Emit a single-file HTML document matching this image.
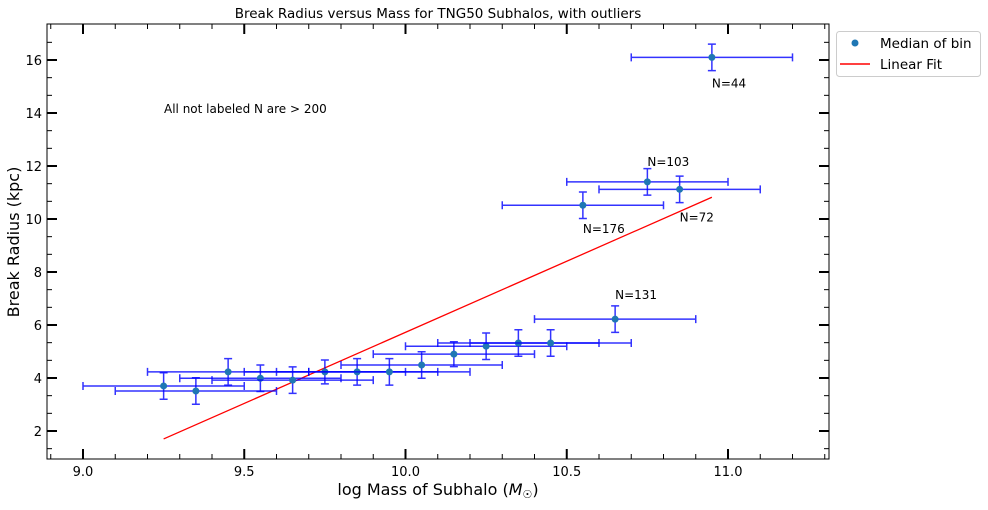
<!DOCTYPE html>
<html><head><meta charset="utf-8"><style>
body{margin:0;background:#fff;font-family:"DejaVu Sans","Liberation Sans",sans-serif;}
</style></head><body>
<svg id="chart" width="988" height="506" xmlns="http://www.w3.org/2000/svg" font-family="DejaVu Sans, Liberation Sans, sans-serif">
<rect width="988" height="506" fill="#fff"/>
<text x="438" y="18" font-size="13.5" text-anchor="middle">Break Radius versus Mass for TNG50 Subhalos, with outliers</text>
<g id="plot"></g>
<text x="438" y="495" font-size="16" text-anchor="middle">log Mass of Subhalo (<tspan font-style="italic">M</tspan><tspan font-size="11" dy="3">☉</tspan><tspan dy="-3">)</tspan></text>
<text x="19" y="242" font-size="16" text-anchor="middle" transform="rotate(-90 19 242)">Break Radius (kpc)</text>
<text x="164" y="113" font-size="12">All not labeled N are &gt; 200</text>
<g>
<rect x="836.5" y="31.5" width="144" height="45" rx="3" fill="#fff" stroke="#ccc"/>
<circle cx="855" cy="43" r="3.5" fill="#1f77b4"/>
<text x="880" y="48" font-size="13.5">Median of bin</text>
<line x1="840" y1="64" x2="870" y2="64" stroke="red" stroke-width="1.5"/>
<text x="880" y="69" font-size="13.5">Linear Fit</text>
</g>
</svg>
<script>
const xs=[9.25,9.35,9.45,9.55,9.65,9.75,9.85,9.95,10.05,10.15,10.25,10.35,10.45,10.55,10.65,10.75,10.85,10.95];
const ys=[3.70,3.51,4.23,3.99,3.92,4.23,4.23,4.23,4.49,4.90,5.20,5.32,5.32,10.52,6.22,11.40,11.12,16.10];
const xerr=[0.25,0.25,0.25,0.25,0.25,0.25,0.25,0.25,0.25,0.25,0.25,0.25,0.25,0.25,0.25,0.25,0.25,0.25];
const yerr=[0.5,0.5,0.5,0.5,0.5,0.45,0.5,0.5,0.5,0.47,0.5,0.5,0.5,0.5,0.5,0.5,0.5,0.5];
const fitX=[9.25,10.95];
const fitY=[1.70,10.82];
const labels=[{x:10.95,y:16.1,t:"N=44",dx:0,dy:30},{x:10.75,y:11.4,t:"N=103",dx:0,dy:-16},{x:10.85,y:11.12,t:"N=72",dx:0,dy:32},{x:10.55,y:10.52,t:"N=176",dx:0,dy:28},{x:10.65,y:6.22,t:"N=131",dx:0,dy:-20}];
const xTicks=[9.0,9.5,10.0,10.5,11.0];
const yTicks=[2,4,6,8,10,12,14,16];
const L=47,R=829,T=24,B=459;
const X=v=>83+(v-9)*322.5;
const Y=v=>431-(v-2)*26.5;
const ns="http://www.w3.org/2000/svg";
const g=document.getElementById('plot');
function mk(t,a){const e=document.createElementNS(ns,t);for(const k in a)e.setAttribute(k,a[k]);g.appendChild(e);return e;}
for(let v=8.9;v<=11.31;v+=0.1){const x=X(v);
 let e=mk('line',{x1:x,y1:B,x2:x,y2:B-5,stroke:'#000','stroke-width':1});
 
 e=mk('line',{x1:x,y1:T,x2:x,y2:T+5,stroke:'#000','stroke-width':1});
 }
for(let v=2/3;v<=17.3;v+=2/3){const y=Y(v);if(y<T||y>B)continue;
 let e=mk('line',{x1:L,y1:y,x2:L+5,y2:y,stroke:'#000','stroke-width':1});
 
 e=mk('line',{x1:R,y1:y,x2:R-5,y2:y,stroke:'#000','stroke-width':1});
 }
xTicks.forEach(v=>{const x=X(v);
 let e=mk('line',{x1:x,y1:B,x2:x,y2:B-10,stroke:'#000','stroke-width':2});
 
 e=mk('line',{x1:x,y1:T,x2:x,y2:T+10,stroke:'#000','stroke-width':2});
 
 e=mk('text',{x:x,y:B+17,'font-size':13,'text-anchor':'middle'});e.textContent=v.toFixed(1);
 });
yTicks.forEach(v=>{const y=Y(v);
 let e=mk('line',{x1:L,y1:y,x2:L+10,y2:y,stroke:'#000','stroke-width':2});
 
 e=mk('line',{x1:R,y1:y,x2:R-10,y2:y,stroke:'#000','stroke-width':2});
 
 e=mk('text',{x:L-5,y:y+5,'font-size':13,'text-anchor':'end'});e.textContent=v;
 });
let f=mk('line',{x1:X(fitX[0]),y1:Y(fitY[0]),x2:X(fitX[1]),y2:Y(fitY[1]),stroke:'red','stroke-width':1.3});

xs.forEach((v,i)=>{const cx=X(v),cy=Y(ys[i]),x1=X(v-xerr[i]),x2=X(v+xerr[i]),y1=Y(ys[i]+yerr[i]),y2=Y(ys[i]-yerr[i]);
 const c='rgba(0,0,255,0.8)';
 let e=mk('path',{d:`M${x1},${cy}H${x2}M${x1},${cy-4}V${cy+4}M${x2},${cy-4}V${cy+4}M${cx},${y1}V${y2}M${cx-4},${y1}H${cx+4}M${cx-4},${y2}H${cx+4}`,stroke:c,'stroke-width':1.5,fill:'none'});
 
 e=mk('circle',{cx:cx,cy:cy,r:3.5,fill:'#1f77b4'});
 });
labels.forEach(l=>{const e=mk('text',{x:X(l.x)+l.dx,y:Y(l.y)+l.dy,'font-size':12});e.textContent=l.t;
 });
let fr=mk('rect',{x:L,y:T,width:R-L,height:B-T,fill:'none',stroke:'#000','stroke-width':1});

</script>
</body></html>
